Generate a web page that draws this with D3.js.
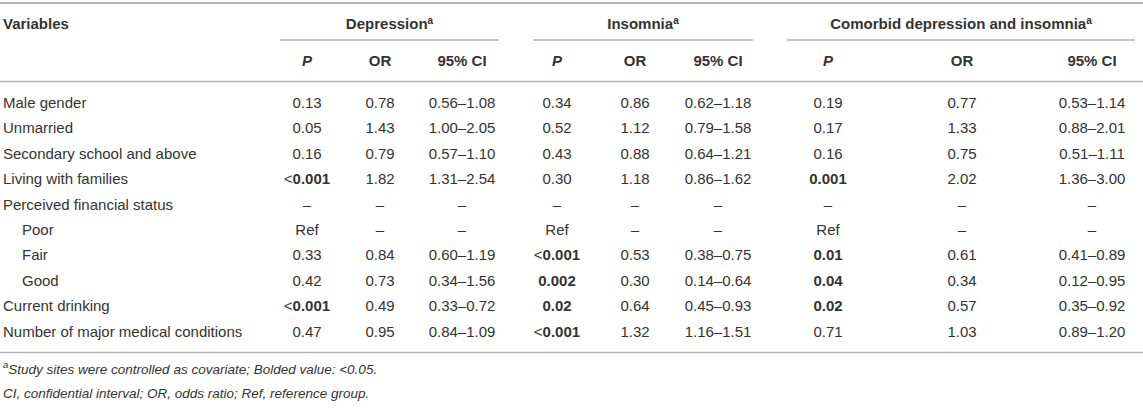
<!DOCTYPE html>
<html>
<head>
<meta charset="utf-8">
<script src="https://cdn.jsdelivr.net/npm/d3@7"></script>
<style>
  body { margin: 0; background: #fff; }
  svg { display: block; font-family: "Liberation Sans", Arial, Helvetica, sans-serif; }
  text { fill: #333; }
</style>
</head>
<body>
<svg id="table" width="1143" height="410"></svg>
<script>
// Table contents
var variables = [
  'Male gender', 'Unmarried', 'Secondary school and above', 'Living with families',
  'Perceived financial status', 'Poor', 'Fair', 'Good', 'Current drinking',
  'Number of major medical conditions'
];
var indented = ['Poor', 'Fair', 'Good'];

var groups = ['Depression', 'Insomnia', 'Comorbid depression and insomnia'];
var subHeaders = ['P', 'OR', '95% CI'];

var depP  = ['0.13', '0.05', '0.16', '<0.001', '–', 'Ref', '0.33', '0.42', '<0.001', '0.47'];
var depOR = ['0.78', '1.43', '0.79', '1.82', '–', '–', '0.84', '0.73', '0.49', '0.95'];
var depCI = ['0.56–1.08', '1.00–2.05', '0.57–1.10', '1.31–2.54', '–', '–', '0.60–1.19', '0.34–1.56', '0.33–0.72', '0.84–1.09'];

var insP  = ['0.34', '0.52', '0.43', '0.30', '–', 'Ref', '<0.001', '0.002', '0.02', '<0.001'];
var insOR = ['0.86', '1.12', '0.88', '1.18', '–', '–', '0.53', '0.30', '0.64', '1.32'];
var insCI = ['0.62–1.18', '0.79–1.58', '0.64–1.21', '0.86–1.62', '–', '–', '0.38–0.75', '0.14–0.64', '0.45–0.93', '1.16–1.51'];

var comP  = ['0.19', '0.17', '0.16', '0.001', '–', 'Ref', '0.01', '0.04', '0.02', '0.71'];
var comOR = ['0.77', '1.33', '0.75', '2.02', '–', '–', '0.61', '0.34', '0.57', '1.03'];
var comCI = ['0.53–1.14', '0.88–2.01', '0.51–1.11', '1.36–3.00', '–', '–', '0.41–0.89', '0.12–0.95', '0.35–0.92', '0.89–1.20'];

var footnotes = [
  'Study sites were controlled as covariate; Bolded value: <0.05.',
  'CI, confidential interval; OR, odds ratio; Ref, reference group.'
];

var columns = [
  { key: 'depP', values: depP }, { key: 'depOR', values: depOR }, { key: 'depCI', values: depCI },
  { key: 'insP', values: insP }, { key: 'insOR', values: insOR }, { key: 'insCI', values: insCI },
  { key: 'comP', values: comP }, { key: 'comOR', values: comOR }, { key: 'comCI', values: comCI }
];

var width = 1143;
var fontSize = 15;
var lineColor = '#b3b3b3';

var svg = d3.select('#table');

// Column centers and row positions
var x = d3.scaleOrdinal()
  .domain(columns.map(function(c) { return c.key; }))
  .range([307, 380, 462, 557, 635, 718, 828, 962, 1092]);

var groupSpan = d3.scaleOrdinal()
  .domain(groups)
  .range([[280, 499], [533, 753], [787, 1135]]);

var y = d3.scaleLinear().domain([0, variables.length - 1]).range([102.5, 331.5]);

var isBold = function(v) {
  if (v.charAt(0) === '<') return true;
  var n = parseFloat(v);
  return !isNaN(n) && n < 0.05;
};

// Rules
var hline = function(x1, x2, yy, w) {
  svg.append('line')
    .attr('x1', x1).attr('x2', x2).attr('y1', yy).attr('y2', yy)
    .attr('stroke', lineColor).attr('stroke-width', w);
};
hline(0, width, 3, 2);
hline(0, width, 81.5, 1.5);
hline(0, width, 352.5, 1.5);

// Header row 1
svg.append('text')
  .attr('x', 3).attr('y', 24).attr('dy', '0.35em')
  .attr('font-size', fontSize).attr('font-weight', 'bold')
  .text('Variables');

var groupHead = svg.selectAll('text.group')
  .data(groups)
  .enter().append('text')
  .attr('class', 'group')
  .attr('x', function(g) { var s = groupSpan(g); return (s[0] + s[1]) / 2; })
  .attr('y', 24).attr('dy', '0.35em')
  .attr('text-anchor', 'middle')
  .attr('font-size', fontSize).attr('font-weight', 'bold');
groupHead.append('tspan').text(function(g) { return g; });
groupHead.append('tspan').attr('font-size', 10).attr('dy', '-0.55em').text('a');

svg.selectAll('line.group')
  .data(groups)
  .enter().append('line')
  .attr('class', 'group')
  .attr('x1', function(g) { return groupSpan(g)[0]; })
  .attr('x2', function(g) { return groupSpan(g)[1]; })
  .attr('y1', 40).attr('y2', 40)
  .attr('stroke', lineColor).attr('stroke-width', 1.5);

// Header row 2
svg.selectAll('text.sub')
  .data(columns)
  .enter().append('text')
  .attr('class', 'sub')
  .attr('x', function(c) { return x(c.key); })
  .attr('y', 61).attr('dy', '0.35em')
  .attr('text-anchor', 'middle')
  .attr('font-size', fontSize).attr('font-weight', 'bold')
  .attr('font-style', function(c, i) { return i % 3 === 0 ? 'italic' : 'normal'; })
  .text(function(c, i) { return subHeaders[i % 3]; });

// Variable names
svg.selectAll('text.var')
  .data(variables)
  .enter().append('text')
  .attr('class', 'var')
  .attr('x', function(v) { return indented.indexOf(v) >= 0 ? 22 : 3; })
  .attr('y', function(v, i) { return y(i); }).attr('dy', '0.35em')
  .attr('font-size', fontSize)
  .text(function(v) { return v; });

// Cells
columns.forEach(function(col, ci) {
  var cells = svg.selectAll('text.c' + col.key)
    .data(col.values)
    .enter().append('text')
    .attr('class', 'c' + col.key)
    .attr('x', x(col.key))
    .attr('y', function(v, i) { return y(i); }).attr('dy', '0.35em')
    .attr('text-anchor', 'middle')
    .attr('font-size', fontSize);

  cells.each(function(v) {
    var t = d3.select(this);
    var bold = ci % 3 === 0 && isBold(v);
    if (bold && v.charAt(0) === '<') {
      t.append('tspan').text('<');
      t.append('tspan').attr('font-weight', 'bold').text(v.slice(1));
    } else {
      t.attr('font-weight', bold ? 'bold' : 'normal').text(v);
    }
  });
});

// Footnotes
var fn1 = svg.append('text')
  .attr('x', 3).attr('y', 372).attr('dy', '0.35em')
  .attr('font-size', 13.5).attr('font-style', 'italic');
fn1.append('tspan').attr('font-size', 9.5).attr('dy', '-0.4em').text('a');
fn1.append('tspan').attr('dy', '0.4em').text(footnotes[0]);

svg.append('text')
  .attr('x', 3).attr('y', 393).attr('dy', '0.35em')
  .attr('font-size', 13.5).attr('font-style', 'italic')
  .text(footnotes[1]);
</script>
</body>
</html>
